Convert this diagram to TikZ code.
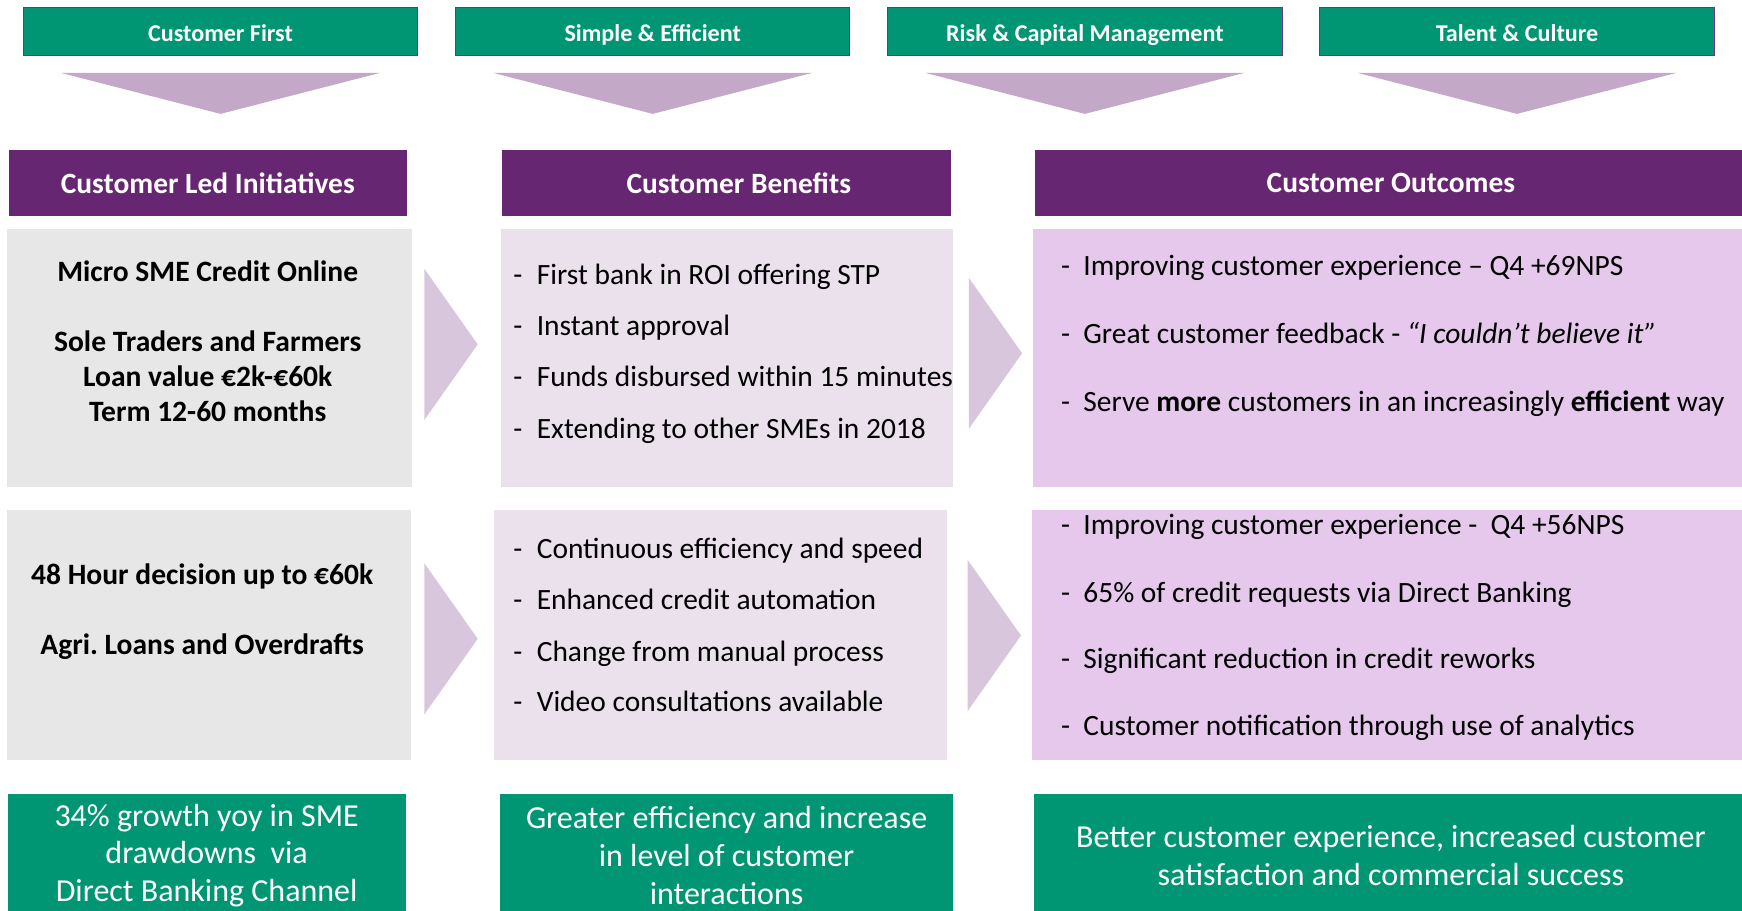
\documentclass[tikz,border=0pt]{standalone}
\usepackage{fontspec}
\setmainfont{Carlito}
\definecolor{bankgreen}{RGB}{0,150,116}
\definecolor{hdrpurple}{RGB}{103,38,113}
\definecolor{edgepurple}{RGB}{112,48,140}
\definecolor{tripurple}{RGB}{195,168,199}
\definecolor{chevpurple}{RGB}{216,198,220}
\definecolor{initgray}{RGB}{231,231,231}
\definecolor{benlav}{RGB}{234,225,236}
\definecolor{outpink}{RGB}{229,200,236}
\tikzset{
  pillar/.style={fill=bankgreen, draw=edgepurple, line width=1pt, text=white, inner sep=0pt,
    text height=20pt, text depth=3pt,
    minimum width=355pt, minimum height=43pt, font=\bfseries\fontsize{21.7}{26}\selectfont},
  header/.style={fill=hdrpurple, text=white, inner sep=0pt, minimum height=59pt,
    font=\bfseries\fontsize{26.5}{32}\selectfont},
  panel/.style={inner sep=0pt},
  result/.style={fill=bankgreen, text=white, inner sep=0pt, minimum height=110pt, align=center,
    font=\fontsize{28.8}{34}\selectfont},
  keytext/.style={inner sep=0pt, align=center, font=\bfseries\fontsize{26.6}{31.5}\selectfont},
  bullet/.style={anchor=base west, inner sep=0pt, font=\fontsize{26.5}{31}\selectfont},
  pointer/.style={fill=tripurple},
  chevron/.style={fill=chevpurple}
}
\begin{document}
\begin{tikzpicture}[x=1pt,y=-1pt]
\useasboundingbox (0,0) rectangle (1568,820);

\node[pillar] (p1) at (198.5,28.5) {Customer First};
\node[pillar] (p2) at (587.5,28.5) {Simple \& Efficient};
\node[pillar] (p3) at (976.5,28.5) {Risk \& Capital Management};
\node[pillar] (p4) at (1365.5,28.5) {Talent \& Culture};
\foreach \i in {1,...,4}
  \fill[pointer] ([xshift=-144pt,yshift=-15pt]p\i.south) -- ([xshift=144pt,yshift=-15pt]p\i.south)
    -- ([yshift=-52pt]p\i.south) -- cycle;

\node[header, minimum width=358pt] (h1) at (187,164.5) {Customer Led Initiatives};
\node[header, minimum width=404pt] (h2) at (654,164.5) {\hspace*{22pt}Customer Benefits};
\node[header, minimum width=640pt] (h3) at (1252,164.5) {Customer Outcomes};

\node[panel, fill=initgray, minimum width=365pt, minimum height=232pt] (a1) at (188.5,322) {};
\node[panel, fill=benlav, minimum width=407pt, minimum height=232pt] (b1) at (654.5,322) {};
\node[panel, fill=outpink, minimum width=642pt, minimum height=232pt] (c1) at (1251,322) {};
\node[panel, fill=initgray, minimum width=364pt, minimum height=225pt] (a2) at (188,571.5) {};
\node[panel, fill=benlav, minimum width=407pt, minimum height=225pt] (b2) at (648.5,571.5) {};
\node[panel, fill=outpink, minimum width=643pt, minimum height=225pt] (c2) at (1250.5,571.5) {};

\foreach \x/\y in {382/310, 872/318, 382/575, 871/572}
  \fill[chevron] (\x,\y-68) -- (\x+48,\y) -- (\x,\y+68) -- cycle;

\node[keytext] (a1t) at (187,307) {Micro SME Credit Online\\[31.5pt]Sole Traders and Farmers\\Loan value €2k-€60k\\Term 12-60 months};
\node[keytext] (a2t) at (182,550.5) {48 Hour decision up to €60k\\[31.5pt]Agri.\ Loans and Overdrafts};

\foreach \y/\t [count=\i] in {256/First bank in ROI offering STP, 302/Instant approval,
    348/Funds disbursed within 15 minutes, 395/Extending to other SMEs in 2018}
  \node[bullet] (ba\i) at (462,\y) {\makebox[21pt][l]{-}\t};
\foreach \y/\t [count=\i] in {248/Improving customer experience – Q4 +69NPS,
    309/Great customer feedback - \textit{“I couldn’t believe it”},
    370/Serve \textbf{more} customers in an increasingly \textbf{efficient} way}
  \node[bullet] (ca\i) at (955,\y) {\makebox[20pt][l]{-}\t};
\foreach \y/\t [count=\i] in {503/Continuous efficiency and speed, 549/Enhanced credit automation,
    595/Change from manual process, 640/Video consultations available}
  \node[bullet] (bb\i) at (462,\y) {\makebox[21pt][l]{-}\t};
\foreach \y/\t [count=\i] in {481/Improving customer experience -\ \ Q4 +56NPS,
    542/65\% of credit requests via Direct Banking, 602/Significant reduction in credit reworks,
    662/Customer notification through use of analytics}
  \node[bullet] (cb\i) at (955,\y) {\makebox[20pt][l]{-}\t};

\node[result, minimum width=358pt] (g1) at (186,770) {34\% growth yoy in SME\\drawdowns\ \ via\\Direct Banking Channel};
\node[result, minimum width=408pt] (g2) at (654,770) {Greater efficiency and increase\\in level of customer\\interactions};
\node[result, minimum width=642pt] (g3) at (1252,770) {Better customer experience, increased customer\\satisfaction and commercial success};
\end{tikzpicture}
\end{document}
